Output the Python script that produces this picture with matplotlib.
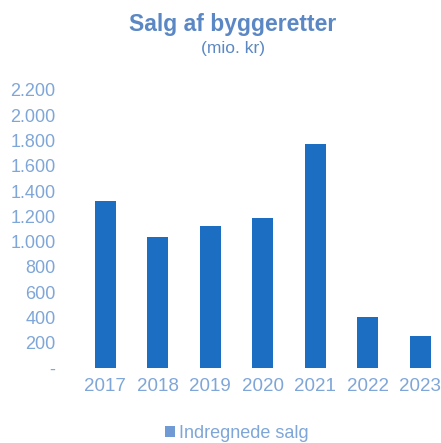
import matplotlib
matplotlib.use("Agg")
import matplotlib.pyplot as plt
from matplotlib.patches import Patch

plt.rcParams["font.family"] = ["Liberation Sans", "DejaVu Sans"]

years = ["2017", "2018", "2019", "2020", "2021", "2022", "2023"]
sales = [1320, 1035, 1125, 1185, 1770, 400, 255]
yticks = [0, 200, 400, 600, 800, 1000, 1200, 1400, 1600, 1800, 2000, 2200]

bar_color = "#1B6EC2"
text_color = "#7FA6D8"
title_color = "#5B88C4"


def dk_fmt(v):
    # danish style: dot as thousands separator, zero shown as dash
    if v == 0:
        return "-"
    return f"{v:,}".replace(",", ".")


W, H = 441, 443
fig = plt.figure(figsize=(W / 100, H / 100), dpi=100)
# axes placed in pixel terms: left 79, right 441, top 90, bottom 368
ax = fig.add_axes([79 / W, 1 - 368 / H, (441 - 79) / W, (368 - 90) / H])

x = range(len(years))
ax.bar(x, sales, width=0.4, color=bar_color)

ax.set_xlim(-0.5, 6.4)
ax.set_ylim(0, 2200)
ax.set_xticks(list(x))
ax.set_xticklabels(years, fontsize=13.5, color=text_color)
ax.set_yticks(yticks)
ax.set_yticklabels([dk_fmt(v) for v in yticks], fontsize=13, color=text_color)
ax.tick_params(axis="y", length=0, pad=17)
ax.tick_params(axis="x", length=0, pad=7)
for s in ax.spines.values():
    s.set_visible(False)

fig.text(233 / W, 1 - 25 / H, "Salg af byggeretter", ha="center", va="center",
         fontsize=16.5, fontweight="bold", color=title_color)
fig.text(233 / W, 1 - 49 / H, "(mio. kr)", ha="center", va="center",
         fontsize=12.5, color=title_color)

handle = Patch(facecolor="#6F9AD3", edgecolor="none")
fig.legend([handle], ["Indregnede salg"], loc="center", bbox_to_anchor=(237 / W, 1 - 433 / H),
           frameon=False, fontsize=13, labelcolor=text_color, handlelength=0.55,
           handleheight=0.55, handletextpad=0.2)

fig.savefig("out.png", dpi=100)
